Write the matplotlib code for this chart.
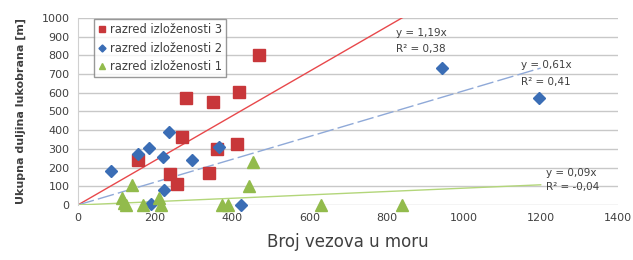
import numpy as np
import matplotlib
matplotlib.use('Agg')
import matplotlib.pyplot as plt

plt.rcParams['font.family'] = ['DejaVu Sans']

# razred izloženosti 3
x3 = [155, 238, 256, 271, 280, 341, 350, 362, 413, 417, 470]
y3 = [240, 164, 112, 362, 570, 169, 549, 300, 325, 603, 800]
# razred izloženosti 2
x2 = [87, 157, 184, 220, 237, 223, 190, 297, 367, 423, 945, 1195]
y2 = [182, 271, 303, 255, 392, 80, 5, 241, 312, 0, 731, 570]
# razred izloženosti 1
x1 = [115, 120, 125, 140, 170, 210, 215, 375, 390, 445, 455, 630, 840]
y1 = [40, 10, 0, 107, 0, 35, 0, 0, 0, 100, 230, 0, 0]

slopes = [1.19, 0.61, 0.09]
r2 = ['0,38', '0,41', '-0,04']
labels = ['razred izloženosti 3', 'razred izloženosti 2', 'razred izloženosti 1']

fig = plt.figure(figsize=(6.33, 2.6), dpi=100)
ax = fig.add_axes([0.123, 0.2115, 0.853, 0.7195])

txt = '#404040'
ax.set_xlim(0, 1400)
ax.set_ylim(0, 1000)
ax.set_xticks(np.arange(0, 1401, 200))
ax.set_yticks(np.arange(0, 1001, 100))
ax.grid(axis='y', color='#c8c8c8', linewidth=1.0)
ax.set_axisbelow(True)
for s in ax.spines.values():
    s.set_visible(False)
ax.spines['left'].set_visible(True)
ax.spines['left'].set_color('#d0d0d0')
ax.tick_params(length=0, labelsize=8, labelcolor=txt, pad=6)

# trend lines
xl = np.array([0, 1200])
ax.plot(xl, slopes[0] * xl, color='#e8484b', linewidth=1.0, zorder=2)
ax.plot(xl, slopes[1] * xl, color='#8fa9d8', linewidth=1.0, dashes=(12, 3), zorder=2)
ax.plot(xl, slopes[2] * xl, color='#b3d67a', linewidth=1.0, zorder=2)

ax.plot(x3, y3, 's', color='#c8373a', ms=8, label=labels[0], zorder=3, clip_on=False)
ax.plot(x2, y2, 'D', color='#3a6db5', ms=6.5, label=labels[1], zorder=3, clip_on=False)
ax.plot(x1, y1, '^', color='#92bb4c', ms=8, label=labels[2], zorder=3, clip_on=False)

fs = 7.5
ax.text(824, 920, 'y = 1,19x', fontsize=fs, color=txt, va='center')
ax.text(824, 834, 'R² = ' + r2[0], fontsize=fs, color=txt, va='center')
ax.text(1150, 749, 'y = 0,61x', fontsize=fs, color=txt, va='center')
ax.text(1150, 658, 'R² = ' + r2[1], fontsize=fs, color=txt, va='center')
ax.text(1215, 170, 'y = 0,09x', fontsize=fs, color=txt, va='center')
ax.text(1215, 96, 'R² = ' + r2[2], fontsize=fs, color=txt, va='center')

leg = ax.legend(loc='upper left', bbox_to_anchor=(0.03, 0.995), fontsize=8.3,
                frameon=True, fancybox=False, edgecolor='#808080',
                handlelength=0.7, handletextpad=0.3, borderpad=0.35,
                labelspacing=0.5, markerscale=0.55, borderaxespad=0)
leg.get_frame().set_linewidth(1.0)
for t in leg.get_texts():
    t.set_color(txt)

ax.set_xlabel('Broj vezova u moru', fontsize=12, color=txt, labelpad=7)
ax.set_ylabel('Ukupna duljina lukobrana [m]', fontsize=8, color=txt,
              fontweight='bold', labelpad=11)

fig.savefig('out.png', dpi=100)
